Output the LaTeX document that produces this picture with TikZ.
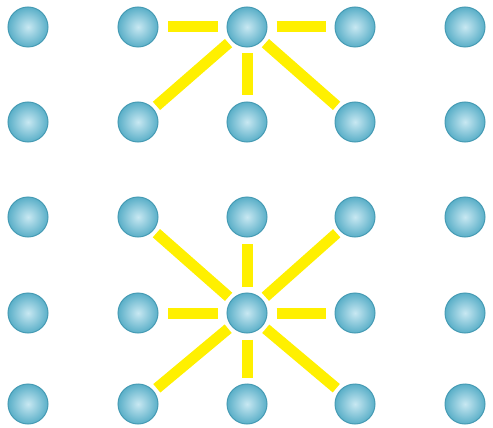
\documentclass[tikz,border=0pt]{standalone}
\definecolor{ballin}{RGB}{200,232,242}
\definecolor{ballout}{RGB}{90,175,200}
\definecolor{ballrim}{RGB}{70,155,180}
\definecolor{bondyellow}{RGB}{255,240,0}
\begin{document}
\begin{tikzpicture}[x=1pt, y=-1pt,
  every node/.style={circle, minimum size=40pt, inner sep=0pt, draw=ballrim, line width=1pt, inner color=ballin, outer color=ballout},
  bond/.style={line width=11pt, draw=bondyellow, shorten <=9pt, shorten >=9pt},
  diag/.style={line width=11pt, draw=bondyellow, shorten <=4pt, shorten >=4pt}]
  \useasboundingbox (0,0) rectangle (493,428);
  % Main nodes
  \foreach \c/\x in {0/28, 1/138, 2/247, 3/355, 4/465}
    \foreach \r/\y in {0/27, 1/122, 2/217, 3/313, 4/404}
      \node (n\c\r) at (\x,\y) {};

  % Bonds - upper centre
  \draw[bond] (n20) -- (n10);
  \draw[bond] (n20) -- (n30);
  \draw[bond, shorten <=6pt, shorten >=6pt] (n20) -- (n21);
  \draw[diag] (n20) -- (n11);
  \draw[diag] (n20) -- (n31);

  % Bonds - lower centre
  \draw[bond] (n23) -- (n13);
  \draw[bond] (n23) -- (n33);
  \draw[bond, shorten <=6pt, shorten >=6pt] (n23) -- (n22);
  \draw[bond, shorten <=6pt, shorten >=6pt] (n23) -- (n24);
  \draw[diag] (n23) -- (n12);
  \draw[diag] (n23) -- (n32);
  \draw[diag] (n23) -- (n14);
  \draw[diag] (n23) -- (n34);
\end{tikzpicture}
\end{document}
